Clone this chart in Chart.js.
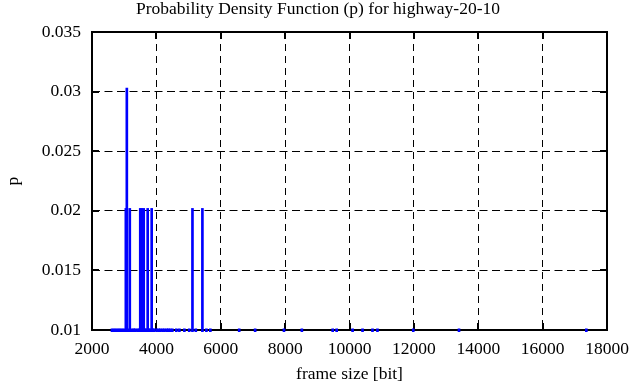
<!DOCTYPE html>
<html>
<head>
<meta charset="utf-8">
<script src="https://cdn.jsdelivr.net/npm/chart.js@4/dist/chart.umd.min.js"></script>
<style>
  html, body { margin: 0; padding: 0; background: #fff; }
  #wrap { width: 636px; height: 387px; }
</style>
</head>
<body>
<div id="wrap"><canvas id="pdfChart" width="636" height="387"></canvas></div>
<script>
// PDF of frame sizes, highway-20-10

const frameSizes = [
    2620, 2684, 2745, 2810, 2868, 2931, 2994, 3051, 3082, 3115,
    3174, 3240, 3301, 3335, 3410, 3462, 3499, 3545, 3590, 3607,
    3652, 3690, 3730, 3772, 3815, 3854, 3893, 3925, 4005, 4068,
    4122, 4190, 4250, 4318, 4372, 4428, 4496, 4620, 4715, 4870,
    5020, 5121, 5225, 5430, 5554, 5677, 6573, 7068, 7964, 8520,
    9478, 9601, 10096, 10405, 10714, 10868, 11981, 13402, 17357
];

const pValues = [
    0.0101, 0.0101, 0.0101, 0.0101, 0.0101, 0.0101, 0.0101, 0.0202, 0.0303, 0.0101,
    0.0202, 0.0101, 0.0101, 0.0101, 0.0101, 0.0101, 0.0202, 0.0202, 0.0101, 0.0202,
    0.0101, 0.0101, 0.0202, 0.0101, 0.0101, 0.0202, 0.0101, 0.0101, 0.0101, 0.0101,
    0.0101, 0.0101, 0.0101, 0.0101, 0.0101, 0.0101, 0.0101, 0.0101, 0.0101, 0.0101,
    0.0101, 0.0202, 0.0101, 0.0202, 0.0101, 0.0101, 0.0101, 0.0101, 0.0101, 0.0101,
    0.0101, 0.0101, 0.0101, 0.0101, 0.0101, 0.0101, 0.0101, 0.0101, 0.0101
];

const xTicks = [2000, 4000, 6000, 8000, 10000, 12000, 14000, 16000, 18000];
const yTicks = [0.01, 0.015, 0.02, 0.025, 0.03, 0.035];

const FONT = { family: "'Liberation Serif', 'Times New Roman', serif", size: 17.5 };

/**
 * gnuplot style frame with inward tick marks
 */
const framePlugin = {
    id: 'frame',
    beforeDatasetsDraw(chart) {
        const { ctx, chartArea: a, scales } = chart;
        ctx.save();
        ctx.strokeStyle = '#000';
        ctx.lineWidth = 2;
        const len = 7;
        xTicks.forEach(v => {
            const px = Math.round(scales.x.getPixelForValue(v));
            ctx.beginPath();
            ctx.moveTo(px, a.bottom); ctx.lineTo(px, a.bottom - len);
            ctx.moveTo(px, a.top); ctx.lineTo(px, a.top + len);
            ctx.stroke();
        });
        yTicks.forEach(v => {
            const py = Math.round(scales.y.getPixelForValue(v));
            ctx.beginPath();
            ctx.moveTo(a.left, py); ctx.lineTo(a.left + len, py);
            ctx.moveTo(a.right, py); ctx.lineTo(a.right - len, py);
            ctx.stroke();
        });
        ctx.strokeRect(a.left, a.top, a.right - a.left, a.bottom - a.top);
        ctx.restore();
    }
};

new Chart(document.getElementById('pdfChart'), {
    type: 'bar',
    data: {
        datasets: [{
            label: 'p',
            data: frameSizes.map((s, i) => ({ x: s, y: pValues[i] })),
            backgroundColor: '#0000ff',
            borderWidth: 0,
            barThickness: 2,
            clip: { left: 0, top: 0, right: 0, bottom: 2 }
        }]
    },
    plugins: [framePlugin],
    options: {
        responsive: false,
        animation: false,
        layout: { padding: 0 },
        plugins: {
            legend: { display: false },
            tooltip: { enabled: false },
            title: {
                display: true,
                text: 'Probability Density Function (p) for highway-20-10',
                color: '#000',
                font: { ...FONT, weight: 'normal', lineHeight: 1 },
                padding: { top: 1, bottom: 13.5 }
            }
        },
        scales: {
            x: {
                type: 'linear',
                min: 2000,
                max: 18000,
                offset: false,
                afterBuildTicks: s => { s.ticks = xTicks.map(v => ({ value: v })); },
                afterFit: s => { s.height = 57; s.paddingRight = 29; },
                grid: {
                    color: '#000',
                    lineWidth: 1,
                    offset: false,
                    drawTicks: false
                },
                border: { display: false, dash: [7, 5] },
                ticks: {
                    color: '#000',
                    font: FONT,
                    padding: 9,
                    maxRotation: 0,
                    callback: v => String(v)
                },
                title: {
                    display: true,
                    text: 'frame size [bit]',
                    color: '#000',
                    font: FONT,
                    padding: { top: 2, bottom: 2 }
                }
            },
            y: {
                min: 0.01,
                max: 0.035,
                afterBuildTicks: s => { s.ticks = yTicks.map(v => ({ value: v })); },
                afterFit: s => { s.width = 92; },
                grid: {
                    color: '#000',
                    lineWidth: 1,
                    drawTicks: false
                },
                border: { display: false, dash: [8, 4.5] },
                ticks: {
                    color: '#000',
                    font: FONT,
                    padding: 11,
                    callback: v => String(Number(v.toFixed(3)))
                },
                title: {
                    display: true,
                    text: 'p',
                    color: '#000',
                    font: FONT,
                    padding: { top: 3, bottom: 0 }
                }
            }
        }
    }
});
</script>
</body>
</html>
